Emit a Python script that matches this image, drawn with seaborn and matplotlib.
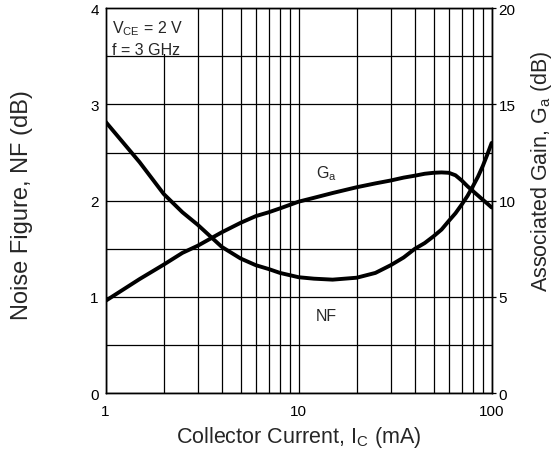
import numpy as np
import pandas as pd
import matplotlib
matplotlib.use('Agg')
import matplotlib.pyplot as plt
from matplotlib.ticker import LogLocator, MultipleLocator, NullFormatter
from matplotlib.patches import Rectangle
import seaborn as sns

# values
current_ma = [1, 1.5, 2, 2.5, 3, 4, 5, 6, 7, 8, 10, 12, 15, 20, 25, 30, 35, 40, 45,
              50, 55, 60, 65, 70, 75, 80, 85, 90, 95, 100]
nf_db = [2.82, 2.40, 2.07, 1.88, 1.75, 1.52, 1.40, 1.33, 1.29, 1.25, 1.205, 1.19, 1.18,
         1.20, 1.25, 1.33, 1.41, 1.50, 1.56, 1.63, 1.70, 1.79, 1.87, 1.96, 2.05,
         2.15, 2.25, 2.36, 2.48, 2.60]
ga_db = [4.8, 5.93, 6.68, 7.29, 7.66, 8.36, 8.85, 9.2, 9.4, 9.6, 9.95, 10.15, 10.4,
         10.7, 10.9, 11.05, 11.2, 11.3, 11.4, 11.45, 11.47, 11.45, 11.32, 11.05,
         10.75, 10.5, 10.27, 10.05, 9.85, 9.65]

nf_ticks = [0, 1, 2, 3, 4]
ga_ticks = [0, 5, 10, 15, 20]
x_ticks = [1, 10, 100]

df = pd.DataFrame({'ic': current_ma, 'nf': nf_db, 'ga': ga_db})

sns.set_style('white')
plt.rcParams['font.family'] = ['Liberation Sans', 'DejaVu Sans']
plt.rcParams['mathtext.fontset'] = 'custom'
plt.rcParams['mathtext.rm'] = 'Liberation Sans'

fig = plt.figure(figsize=(5.53, 4.60), dpi=100)
ax = fig.add_axes([0.191, 0.143, 0.698, 0.837])
ax2 = ax.twinx()

ax.set_xscale('log')
ax.set_xlim(1, 100)
ax.set_ylim(0, 4)
ax.set_xticks(x_ticks)
ax.set_xticklabels([str(t) for t in x_ticks])
ax.xaxis.set_minor_locator(LogLocator(base=10, subs=np.arange(2, 10)))
ax.xaxis.set_minor_formatter(NullFormatter())
ax.set_yticks(nf_ticks)
ax.yaxis.set_minor_locator(MultipleLocator(0.5))
ax.grid(which='both', color='black', lw=0.9)
ax.set_axisbelow(True)
ax.tick_params(which='both', length=0, labelsize=11, colors='black')
ax.tick_params(axis='x', pad=8)
ax.tick_params(axis='y', pad=5)

# white box behind the condition text
ax.add_patch(Rectangle((1.0, 3.52), 1.95, 0.48, facecolor='white', edgecolor='none', zorder=0.8))

sns.lineplot(data=df, x='ic', y='nf', ax=ax, color='black', lw=2.8, zorder=3)
sns.lineplot(data=df, x='ic', y='ga', ax=ax2, color='black', lw=2.8, zorder=3)

ax2.set_ylim(0, 20)
ax2.set_yticks(ga_ticks)
ax2.tick_params(axis='y', length=3, width=0.9, direction='out', labelsize=11, pad=2, colors='black')
ax2.set_ylabel('Associated Gain, G$_\\mathregular{a}$ (dB)', fontsize=15.5)
ax.set_ylabel('Noise Figure, NF (dB)', fontsize=17)
ax.set_xlabel('Collector Current, I$_\\mathregular{C}$ (mA)', fontsize=15.5)
ax.yaxis.set_label_coords(-0.188, 0.49)
ax2.yaxis.set_label_coords(1.097, 0.58)
ax.xaxis.set_label_coords(0.5, -0.08)

for a in (ax, ax2):
    for s in a.spines.values():
        s.set_color('black')
        s.set_linewidth(1.0)

ax.text(0.016, 0.950, 'V$_\\mathregular{CE}$ = 2 V', transform=ax.transAxes, fontsize=11.5, va='center', ha='left')
ax.text(0.016, 0.893, 'f = 3 GHz', transform=ax.transAxes, fontsize=11.5, va='center', ha='left')
ax.text(0.571, 0.572, 'G$_\\mathregular{a}$', transform=ax.transAxes, fontsize=11.5, va='center', ha='center')
ax.text(0.573, 0.201, 'NF', transform=ax.transAxes, fontsize=11.5, va='center', ha='center')

fig.savefig('out.png', dpi=100, facecolor='white')
